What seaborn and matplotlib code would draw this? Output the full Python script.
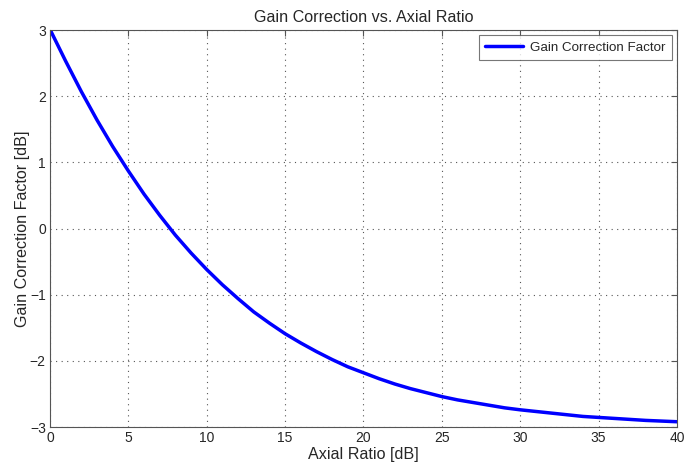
import pandas as pd
import matplotlib
matplotlib.use("Agg")
import matplotlib.pyplot as plt
import seaborn as sns

# values
axial_ratio = [0, 1, 2, 3, 4, 5, 6, 7, 8, 9, 10, 11, 12, 13, 14, 15, 16, 17, 18, 19,
               20, 21, 22, 23, 24, 25, 26, 27, 28, 29, 30, 32, 34, 36, 38, 40]
gain_corr = [3.01, 2.53, 2.07, 1.64, 1.24, 0.87, 0.52, 0.20, -0.10, -0.37, -0.62,
             -0.85, -1.06, -1.26, -1.43, -1.59, -1.73, -1.86, -1.98, -2.09, -2.18,
             -2.27, -2.35, -2.42, -2.48, -2.54, -2.59, -2.63, -2.67, -2.71, -2.74,
             -2.79, -2.84, -2.87, -2.90, -2.92]
x_ticks = [0, 5, 10, 15, 20, 25, 30, 35, 40]
y_ticks = [-3, -2, -1, 0, 1, 2, 3]

df = pd.DataFrame({'AR': axial_ratio, 'Gain': gain_corr})

sns.set_style("white")
plt.rcParams['font.family'] = ['Liberation Sans', 'DejaVu Sans']

fig = plt.figure(figsize=(6.97, 4.72), dpi=100)
ax = fig.add_axes([0.0717, 0.0953, 0.8996, 0.8411])

sns.lineplot(x='AR', y='Gain', data=df, color='#0000ff', linewidth=2.5,
             label='Gain Correction Factor', ax=ax)

ax.set_xlim(0, 40)
ax.set_ylim(-3, 3)
ax.set_xticks(x_ticks)
ax.set_yticks(y_ticks)
ax.tick_params(direction='in', top=True, right=True, length=4, labelsize=10,
               color='#555555', pad=3)
ax.grid(True, linestyle=(0, (1, 4)), color='#555555', linewidth=0.8)
for s in ax.spines.values():
    s.set_color('#555555')
    s.set_linewidth(0.8)

ax.set_title('Gain Correction vs. Axial Ratio', fontsize=11.6, pad=6)
ax.set_xlabel('Axial Ratio [dB]', fontsize=11.6, labelpad=1)
ax.set_ylabel('Gain Correction Factor [dB]', fontsize=11.6, labelpad=0)

leg = ax.legend(loc='upper right', fontsize=9.6, frameon=True, fancybox=False,
                edgecolor='#555555', borderaxespad=0.4, handlelength=2.9,
                handletextpad=0.5, borderpad=0.45)
leg.get_frame().set_linewidth(0.8)

fig.savefig('out.png', dpi=100)
